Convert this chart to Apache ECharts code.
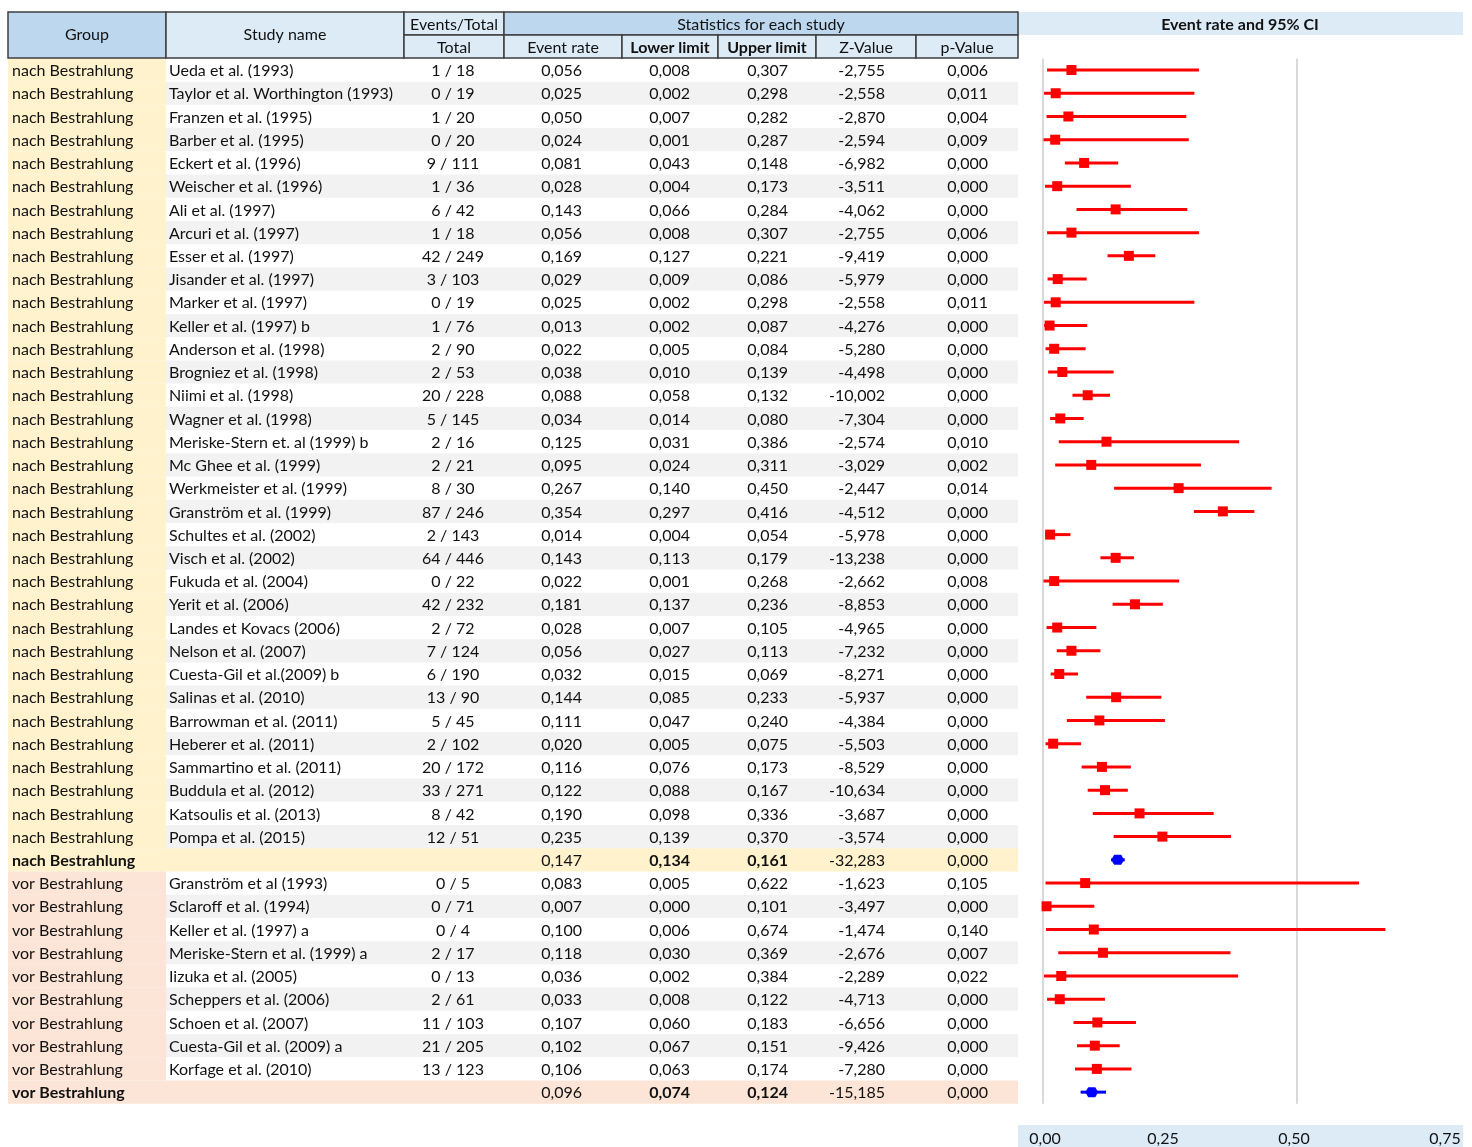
<!DOCTYPE html>
<html>
<head>
<meta charset="utf-8">
<title>Event rate and 95% CI</title>
<script src="https://cdn.jsdelivr.net/npm/echarts@6/dist/echarts.min.js"></script>
<style>
    html, body { margin: 0; padding: 0; background: #fff; }
    #chart { width: 1472px; height: 1147px; }
</style>
</head>
<body>
<div id="chart"></div>
<script>
// Daten aus der Tabelle (Gruppe, Studie, Events/Total, Statistik)
const groups = [
    'nach Bestrahlung','nach Bestrahlung','nach Bestrahlung','nach Bestrahlung','nach Bestrahlung',
    'nach Bestrahlung','nach Bestrahlung','nach Bestrahlung','nach Bestrahlung','nach Bestrahlung',
    'nach Bestrahlung','nach Bestrahlung','nach Bestrahlung','nach Bestrahlung','nach Bestrahlung',
    'nach Bestrahlung','nach Bestrahlung','nach Bestrahlung','nach Bestrahlung','nach Bestrahlung',
    'nach Bestrahlung','nach Bestrahlung','nach Bestrahlung','nach Bestrahlung','nach Bestrahlung',
    'nach Bestrahlung','nach Bestrahlung','nach Bestrahlung','nach Bestrahlung','nach Bestrahlung',
    'nach Bestrahlung','nach Bestrahlung','nach Bestrahlung','nach Bestrahlung','nach Bestrahlung',
    'vor Bestrahlung','vor Bestrahlung','vor Bestrahlung','vor Bestrahlung','vor Bestrahlung',
    'vor Bestrahlung','vor Bestrahlung','vor Bestrahlung','vor Bestrahlung','vor Bestrahlung'
];
const studies = [
    'Ueda et al. (1993)','Taylor et al. Worthington (1993)','Franzen et al. (1995)','Barber et al. (1995)',
    'Eckert et al. (1996)','Weischer et al. (1996)','Ali et al. (1997)','Arcuri et al. (1997)',
    'Esser et al. (1997)','Jisander et al. (1997)','Marker et al. (1997)','Keller et al. (1997) b',
    'Anderson et al. (1998)','Brogniez et al. (1998)','Niimi et al. (1998)','Wagner et al. (1998)',
    'Meriske-Stern et. al (1999) b','Mc Ghee et al. (1999)','Werkmeister et al. (1999)','Granström et al. (1999)',
    'Schultes et al. (2002)','Visch et al. (2002)','Fukuda et al. (2004)','Yerit et al. (2006)',
    'Landes et Kovacs (2006)','Nelson et al. (2007)','Cuesta-Gil et al.(2009) b','Salinas et al. (2010)',
    'Barrowman et al. (2011)','Heberer et al. (2011)','Sammartino et al. (2011)','Buddula et al. (2012)',
    'Katsoulis et al. (2013)','Pompa et al. (2015)','',
    'Granström et al (1993)','Sclaroff et al. (1994)','Keller et al. (1997) a','Meriske-Stern et al. (1999) a',
    'Iizuka et al. (2005)','Scheppers et al. (2006)','Schoen et al. (2007)','Cuesta-Gil et al. (2009) a',
    'Korfage et al. (2010)',''
];
const events = [1,0,1,0,9,1,6,1,42,3,0,1,2,2,20,5,2,2,8,87,2,64,0,42,2,7,6,13,5,2,20,33,8,12,null,
    0,0,0,2,0,2,11,21,13,null];
const totals = [18,19,20,20,111,36,42,18,249,103,19,76,90,53,228,145,16,21,30,246,143,446,22,232,72,124,190,90,45,102,172,271,42,51,null,
    5,71,4,17,13,61,103,205,123,null];
const eventRate = [0.056,0.025,0.050,0.024,0.081,0.028,0.143,0.056,0.169,0.029,0.025,0.013,0.022,0.038,0.088,0.034,
    0.125,0.095,0.267,0.354,0.014,0.143,0.022,0.181,0.028,0.056,0.032,0.144,0.111,0.020,0.116,0.122,0.190,0.235,0.147,
    0.083,0.007,0.100,0.118,0.036,0.033,0.107,0.102,0.106,0.096];
const lowerLimit = [0.008,0.002,0.007,0.001,0.043,0.004,0.066,0.008,0.127,0.009,0.002,0.002,0.005,0.010,0.058,0.014,
    0.031,0.024,0.140,0.297,0.004,0.113,0.001,0.137,0.007,0.027,0.015,0.085,0.047,0.005,0.076,0.088,0.098,0.139,0.134,
    0.005,0.000,0.006,0.030,0.002,0.008,0.060,0.067,0.063,0.074];
const upperLimit = [0.307,0.298,0.282,0.287,0.148,0.173,0.284,0.307,0.221,0.086,0.298,0.087,0.084,0.139,0.132,0.080,
    0.386,0.311,0.450,0.416,0.054,0.179,0.268,0.236,0.105,0.113,0.069,0.233,0.240,0.075,0.173,0.167,0.336,0.370,0.161,
    0.622,0.101,0.674,0.369,0.384,0.122,0.183,0.151,0.174,0.124];
const zValue = [-2.755,-2.558,-2.870,-2.594,-6.982,-3.511,-4.062,-2.755,-9.419,-5.979,-2.558,-4.276,-5.280,-4.498,-10.002,-7.304,
    -2.574,-3.029,-2.447,-4.512,-5.978,-13.238,-2.662,-8.853,-4.965,-7.232,-8.271,-5.937,-4.384,-5.503,-8.529,-10.634,-3.687,-3.574,-32.283,
    -1.623,-3.497,-1.474,-2.676,-2.289,-4.713,-6.656,-9.426,-7.280,-15.185];
const pValue = [0.006,0.011,0.004,0.009,0.000,0.000,0.000,0.006,0.000,0.000,0.011,0.000,0.000,0.000,0.000,0.000,
    0.010,0.002,0.014,0.000,0.000,0.000,0.008,0.000,0.000,0.000,0.000,0.000,0.000,0.000,0.000,0.000,0.000,0.000,0.000,
    0.105,0.000,0.140,0.007,0.022,0.000,0.000,0.000,0.000,0.000];
const summaryRows = [34, 44];
const xTicks = [0, 0.25, 0.5, 0.75];

// Layout
const FONT = 'Lato, "Liberation Sans", sans-serif';
const FS = 16;
const TXT = '#111';
const topY = 58.4, rowH = 23.23, nRows = groups.length;
const fmt = v => v.toFixed(3).replace('.', ',');

const chart = echarts.init(document.getElementById('chart'));
const graphic = [];

function rect(x, y, w, h, fill, stroke) {
    graphic.push({
        type: 'rect', silent: true, z: stroke ? 2 : 0,
        shape: { x: x, y: y, width: w, height: h },
        style: stroke ? { fill: fill, stroke: stroke, lineWidth: 1.5 } : { fill: fill }
    });
}
function text(str, x, y, align, bold) {
    graphic.push({
        type: 'text', silent: true, z: 5,
        x: x, y: y + 1,
        style: {
            text: str, fill: TXT, font: (bold ? 'bold ' : '') + FS + 'px ' + FONT,
            textAlign: align, textVerticalAlign: 'middle'
        }
    });
}

// Kopfzeile
const DARK = '#bdd7ee', LIGHT = '#ddebf7', BORDER = '#3f3f3f';
rect(8, 12, 158, 46, DARK, BORDER);
rect(166, 12, 238, 46, LIGHT, BORDER);
rect(404, 12, 100, 23, LIGHT, BORDER);
rect(404, 35, 100, 23, LIGHT, BORDER);
rect(504, 12, 514, 23, DARK, BORDER);
const statCols = [[504, 622, 'Event rate', false], [622, 718, 'Lower limit', true], [718, 816, 'Upper limit', true],
    [816, 916, 'Z-Value', false], [916, 1018, 'p-Value', false]];
statCols.forEach(c => {
    rect(c[0], 35, c[1] - c[0], 23, LIGHT, BORDER);
    text(c[2], (c[0] + c[1]) / 2, 46.5, 'center', c[3]);
});
text('Group', 87, 34, 'center');
text('Study name', 285, 34, 'center');
text('Events/Total', 454, 23.5, 'center');
text('Total', 454, 46.5, 'center');
text('Statistics for each study', 761, 23.5, 'center');
rect(1018, 12, 445, 23, LIGHT);
text('Event rate and 95% CI', 1240, 23.5, 'center', true);
// Achsenband unten
rect(1018, 1125, 445, 22, LIGHT);

// Tabellenzeilen
let j = 0;
for (let i = 0; i < nRows; i++) {
    const y = topY + i * rowH, cy = y + rowH / 2;
    const summ = summaryRows.indexOf(i) >= 0;
    const gcol = groups[i] === 'nach Bestrahlung' ? '#fff2cc' : '#fce4d6';
    if (i > 0 && groups[i] !== groups[i - 1]) j = 0;
    if (summ) {
        rect(8, y, 1010, rowH, gcol);
    } else {
        rect(8, y, 158, rowH, gcol);
        if (j % 2 === 1) rect(166, y, 852, rowH, '#f2f2f2');
    }
    j++;
    text(groups[i], 12, cy, 'left', summ);
    if (studies[i]) text(studies[i], 169, cy, 'left');
    if (events[i] !== null) text(events[i] + ' / ' + totals[i], 453, cy, 'center');
    text(fmt(eventRate[i]), 582, cy, 'right');
    text(fmt(lowerLimit[i]), 690, cy, 'right', summ);
    text(fmt(upperLimit[i]), 788, cy, 'right', summ);
    text(fmt(zValue[i]), 885, cy, 'right');
    text(fmt(pValue[i]), 988, cy, 'right');
}

// Forest-Plot Daten
const plotData = eventRate.map((r, i) => [lowerLimit[i], upperLimit[i], r, i, summaryRows.indexOf(i) >= 0 ? 1 : 0]);

function renderItem(params, api) {
    const lo = api.coord([api.value(0), api.value(3)]);
    const hi = api.coord([api.value(1), api.value(3)]);
    const pt = api.coord([api.value(2), api.value(3)]);
    const summ = api.value(4) === 1;
    const color = summ ? '#0000ff' : '#ff0000';
    const children = [{
        type: 'line',
        shape: { x1: lo[0], y1: lo[1], x2: hi[0], y2: hi[1] },
        style: { stroke: color, lineWidth: 3 }
    }];
    if (summ) {
        const x = pt[0], y = pt[1];
        children.push({
            type: 'polygon',
            shape: { points: [[x - 6.5, y], [x - 3.5, y - 5], [x + 3.5, y - 5], [x + 6.5, y], [x + 3.5, y + 5], [x - 3.5, y + 5]] },
            style: { fill: color }
        });
    } else {
        children.push({
            type: 'rect',
            shape: { x: pt[0] - 5, y: pt[1] - 5, width: 10, height: 10 },
            style: { fill: color }
        });
    }
    return { type: 'group', children: children };
}

// die Achsenbeschriftungen sitzen im Original etwas versetzt
const labelShift = { '0': 2, '0.25': -7, '0.5': -3, '0.75': 21 };

chart.setOption({
    animation: false,
    textStyle: { fontFamily: FONT },
    graphic: graphic,
    grid: { left: 1043, right: 48, top: topY, height: rowH * nRows },
    xAxis: {
        type: 'value',
        min: xTicks[0], max: xTicks[xTicks.length - 1], interval: 0.25,
        axisLine: { show: false },
        axisTick: { show: false },
        splitLine: { show: true, lineStyle: { color: ['#d9d9d9', 'rgba(0,0,0,0)'], width: 2 } },
        axisLabel: {
            margin: 27, color: TXT, fontSize: FS, fontFamily: FONT,
            formatter: v => {
                const s = labelShift[String(v)] || 0;
                return '{' + (s >= 0 ? 'r' : 'l') + Math.abs(s) + '|' + v.toFixed(2).replace('.', ',') + '}';
            },
            rich: {
                r0: {}, r2: { padding: [0, 0, 0, 4] }, r21: { padding: [0, 0, 0, 42] },
                l7: { padding: [0, 14, 0, 0] }, l3: { padding: [0, 6, 0, 0] }
            }
        }
    },
    yAxis: {
        type: 'category',
        inverse: true,
        data: studies.map((s, i) => i),
        show: false
    },
    series: [{
        type: 'custom',
        renderItem: renderItem,
        encode: { x: [0, 1, 2], y: 3 },
        data: plotData,
        z: 10
    }]
});
</script>
</body>
</html>
